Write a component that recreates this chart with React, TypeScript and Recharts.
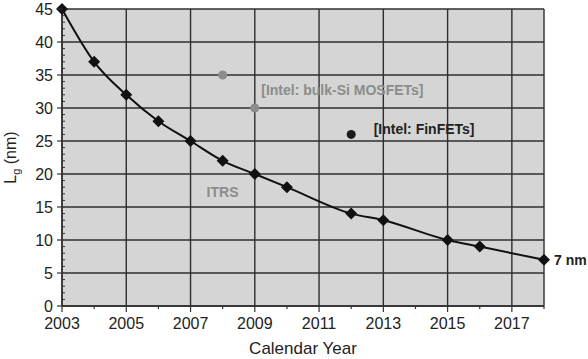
import {
  ComposedChart,
  Line,
  Scatter,
  XAxis,
  YAxis,
  CartesianGrid,
  ReferenceDot,
  LabelList,
} from "recharts";

// ITRS gate-length roadmap
const years = [2003, 2004, 2005, 2006, 2007, 2008, 2009, 2010, 2012, 2013, 2015, 2016, 2018];
const itrsLg = [45, 37, 32, 28, 25, 22, 20, 18, 14, 13, 10, 9, 7];

// Intel points
const bulkYears = [2008, 2009];
const bulkLg = [35, 30];
const finfetYears = [2012];
const finfetLg = [26];

const xLabelTicks = [2003, 2005, 2007, 2009, 2011, 2013, 2015, 2017];
const xAllTicks = [2003, 2004, 2005, 2006, 2007, 2008, 2009, 2010, 2011, 2012, 2013, 2014, 2015, 2016, 2017, 2018];
const yLabelTicks = [0, 5, 10, 15, 20, 25, 30, 35, 40, 45];
const yAllTicks = Array.from({ length: 46 }, (_, i) => i);

const itrsData = years.map((year, i) => ({ year, lg: itrsLg[i] }));
const bulkData = bulkYears.map((year, i) => ({ year, lg: bulkLg[i] }));
const finfetData = finfetYears.map((year, i) => ({ year, lg: finfetLg[i] }));

const FONT = "'Liberation Sans', Arial, sans-serif";
const INK = "#222";
const GRAY = "#8c8c8c";

const Diamond = (props: any) => {
  const { cx, cy } = props;
  if (cx == null || cy == null) return null;
  const s = 6;
  return (
    <path
      d={`M${cx},${cy - s} L${cx + s},${cy} L${cx},${cy + s} L${cx - s},${cy} Z`}
      fill="#111"
    />
  );
};

const XTick = (props: any) => {
  const { x, y, payload } = props;
  const major = xLabelTicks.includes(payload.value);
  return (
    <g>
      <line x1={x} x2={x} y1={y} y2={y + (major ? 6 : 3)} stroke="#333" strokeWidth={1.2} />
      {major && (
        <text x={x} y={y + 23} textAnchor="middle" fontSize={16} fill={INK} fontFamily={FONT}>
          {payload.value}
        </text>
      )}
    </g>
  );
};

const YTick = (props: any) => {
  const { x, y, payload } = props;
  const major = yLabelTicks.includes(payload.value);
  return (
    <g>
      {major ? (
        <line x1={x - 5} x2={x} y1={y} y2={y} stroke="#333" strokeWidth={1.2} />
      ) : (
        <line x1={x} x2={x + 3} y1={y} y2={y} stroke="#333" strokeWidth={1} />
      )}
      {major && (
        <text x={x - 9} y={y + 6} textAnchor="end" fontSize={16} fill={INK} fontFamily={FONT}>
          {payload.value}
        </text>
      )}
    </g>
  );
};

const note = (text: string, color: string) => (p: any) => {
  const vb = p.viewBox || {};
  const cx = vb.x + (vb.width || 0) / 2;
  const cy = vb.y + (vb.height || 0) / 2;
  return (
    <text x={cx} y={cy + 5} fontSize={14} fontWeight="bold" fill={color} fontFamily={FONT}>
      {text}
    </text>
  );
};

export default function App() {
  return (
    <div style={{ position: "absolute", left: 0, top: 0, width: 588, height: 359, background: "#fff" }}>
      <ComposedChart width={588} height={359} margin={{ top: 9, right: 44, bottom: 0, left: 0 }}>
        <CartesianGrid
          fill="#d4d5d4"
          stroke="#2e2e2e"
          strokeWidth={1.4}
          horizontalValues={yLabelTicks}
          verticalValues={[...xLabelTicks, 2018]}
        />
        <XAxis
          type="number"
          dataKey="year"
          domain={[2003, 2018]}
          ticks={xAllTicks}
          interval={0}
          height={53}
          tickLine={false}
          tickSize={0}
          tickMargin={0}
          tick={<XTick />}
          axisLine={{ stroke: "#2e2e2e", strokeWidth: 1.4 }}
          label={{
            content: (p: any) => {
              const vb = p.viewBox;
              return (
                <text
                  x={vb.x + vb.width / 2}
                  y={vb.y + 48}
                  textAnchor="middle"
                  fontSize={17}
                  fill={INK}
                  fontFamily={FONT}
                >
                  Calendar Year
                </text>
              );
            },
          }}
        />
        <YAxis
          type="number"
          dataKey="lg"
          domain={[0, 45]}
          ticks={yAllTicks}
          interval={0}
          width={62}
          tickLine={false}
          tickSize={0}
          tickMargin={0}
          tick={<YTick />}
          axisLine={{ stroke: "#2e2e2e", strokeWidth: 1.4 }}
          label={{
            content: (p: any) => {
              const vb = p.viewBox;
              const lx = 16;
              const ly = vb.y + vb.height / 2;
              return (
                <text
                  x={lx}
                  y={ly}
                  transform={`rotate(-90 ${lx} ${ly})`}
                  textAnchor="middle"
                  fontSize={16}
                  fill={INK}
                  fontFamily={FONT}
                >
                  L<tspan fontSize={11} dy={4}>g</tspan>
                  <tspan dy={-4}> (nm)</tspan>
                </text>
              );
            },
          }}
        />
        <Line
          data={itrsData}
          dataKey="lg"
          type="monotone"
          stroke="#111"
          strokeWidth={2}
          dot={<Diamond />}
          activeDot={false}
          isAnimationActive={false}
        >
          <LabelList
            dataKey="lg"
            content={(p: any) =>
              p.index === itrsData.length - 1 ? (
                <text x={p.x + 10} y={p.y + 5} fontSize={14} fontWeight="bold" fill={INK} fontFamily={FONT}>
                  7 nm
                </text>
              ) : null
            }
          />
        </Line>
        <Scatter data={bulkData} dataKey="lg" fill={GRAY} shape="circle" isAnimationActive={false} />
        <Scatter data={finfetData} dataKey="lg" fill="#1a1a1a" isAnimationActive={false}>
          <LabelList
            dataKey="lg"
            content={(p: any) => (
              <text x={p.x + 27} y={p.y + 4} fontSize={14} fontWeight="bold" fill={INK} fontFamily={FONT}>
                [Intel: FinFETs]
              </text>
            )}
          />
        </Scatter>
        <ReferenceDot x={2009.2} y={32.7} r={0} label={{ content: note("[Intel: bulk-Si MOSFETs]", GRAY) }} />
        <ReferenceDot x={2007.5} y={17.3} r={0} label={{ content: note("ITRS", GRAY) }} />
      </ComposedChart>
    </div>
  );
}
